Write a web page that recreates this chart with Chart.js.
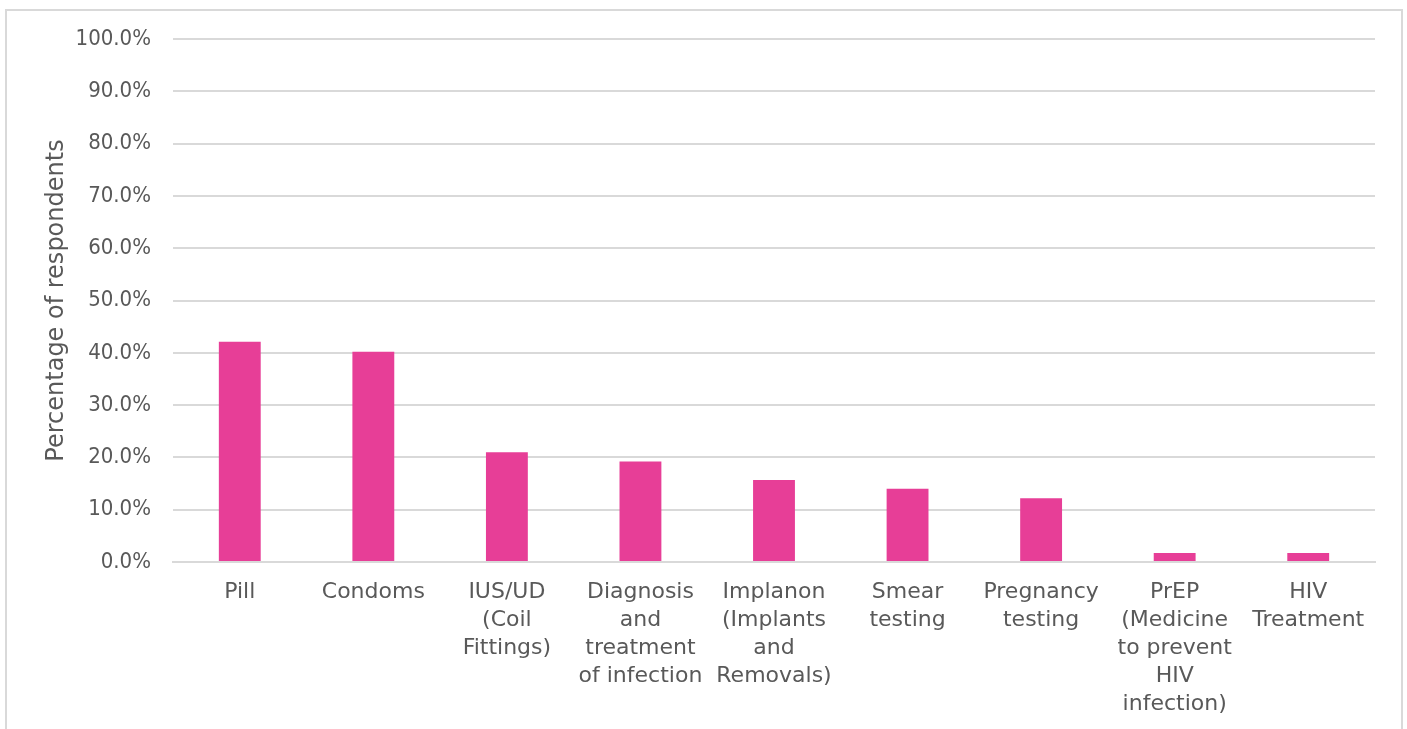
<!DOCTYPE html>
<html>
<head>
<meta charset="utf-8">
<title>Services used</title>
<script src="https://cdn.jsdelivr.net/npm/chart.js@4/dist/chart.umd.min.js"></script>
<style>
    html, body { margin: 0; padding: 0; background: #fff; overflow: hidden; }
    #wrap { position: relative; width: 1407px; height: 729px; }
    #frame {
        position: absolute; left: 5px; top: 9px; width: 1398px; height: 740px;
        border: 2px solid #d9d9d9; box-sizing: border-box; pointer-events: none;
    }
    canvas { position: absolute; left: 0; top: 0; }
</style>
</head>
<body>
<div id="wrap">
    <canvas id="myChart" width="1407" height="729"></canvas>
    <div id="frame"></div>
</div>
<script>
// Services respondents had used (multi-line category labels)
const services = [
    'Pill',
    'Condoms',
    ['IUS/UD', '(Coil', 'Fittings)'],
    ['Diagnosis', 'and', 'treatment', 'of infection'],
    ['Implanon', '(Implants', 'and', 'Removals)'],
    ['Smear', 'testing'],
    ['Pregnancy', 'testing'],
    ['PrEP', '(Medicine', 'to prevent', 'HIV', 'infection)'],
    ['HIV', 'Treatment']
];
const percentUsed = [42.1, 40.2, 21.0, 19.2, 15.7, 14.0, 12.2, 1.7, 1.7];
const yTicks = [0, 10, 20, 30, 40, 50, 60, 70, 80, 90, 100];

const textGrey = '#595959';
const gridGrey = '#d9d9d9';
const font = { family: '"DejaVu Sans", sans-serif', size: 22, lineHeight: '28px' };
const tickFont = { family: '"DejaVu Sans Condensed", "DejaVu Sans", sans-serif', size: 22 };
const titleFont = { family: '"DejaVu Sans", sans-serif', size: 24, lineHeight: '28px' };

document.addEventListener('DOMContentLoaded', function () {
    const ctx = document.getElementById('myChart').getContext('2d');
    new Chart(ctx, {
        type: 'bar',
        data: {
            labels: services,
            datasets: [{
                label: 'Percentage of respondents',
                data: percentUsed,
                backgroundColor: '#e73e97',
                borderWidth: 0,
                categoryPercentage: 1,
                barPercentage: 1 / 3.19 // Excel-style 219% gap
            }]
        },
        options: {
            responsive: false,
            animation: false,
            layout: { padding: { top: 39, right: 32, left: 0, bottom: 0 } },
            plugins: {
                legend: { display: false },
                tooltip: { enabled: false }
            },
            scales: {
                x: {
                    afterFit: function (scale) { scale.height = 167; },
                    grid: { display: false, drawTicks: false },
                    border: { display: true, color: gridGrey, width: 2 },
                    ticks: {
                        color: textGrey,
                        font: font,
                        padding: 16,
                        maxRotation: 0,
                        autoSkip: false
                    }
                },
                y: {
                    min: 0,
                    max: 100,
                    afterFit: function (scale) { scale.width = 173; },
                    afterBuildTicks: function (scale) {
                        scale.ticks = yTicks.map(v => ({ value: v }));
                    },
                    grid: { color: gridGrey, lineWidth: 2, drawTicks: false },
                    border: { display: false },
                    ticks: {
                        color: textGrey,
                        font: tickFont,
                        padding: 22,
                        callback: v => v.toFixed(1) + '%'
                    },
                    title: {
                        display: true,
                        text: 'Percentage of respondents',
                        color: textGrey,
                        font: titleFont,
                        padding: { top: 43, bottom: 0 }
                    }
                }
            }
        }
    });
});
</script>
</body>
</html>
